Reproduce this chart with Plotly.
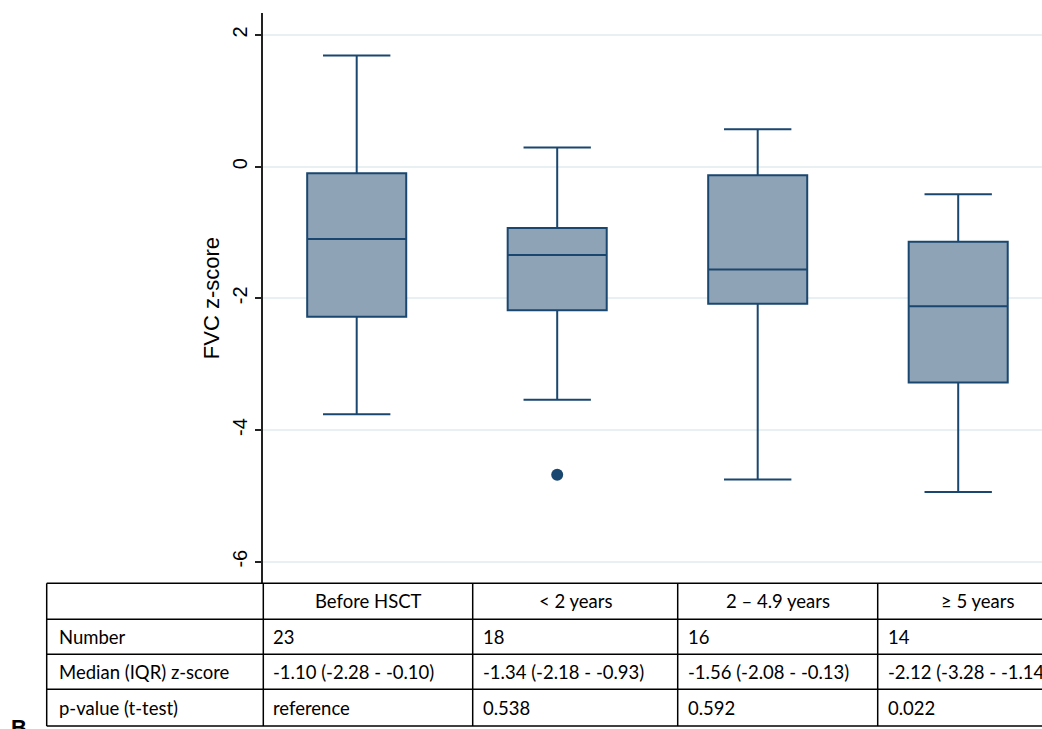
import plotly.graph_objects as go

# ---------------- data ----------------
categories = ["Before HSCT", "< 2 years", "2 \u2013 4.9 years", "\u2265 5 years"]
n_obs = [23, 18, 16, 14]
q1 = [-2.28, -2.18, -2.08, -3.28]
median = [-1.10, -1.34, -1.56, -2.12]
q3 = [-0.10, -0.93, -0.13, -1.14]
lower_whisker = [-3.76, -3.54, -4.75, -4.94]
upper_whisker = [1.69, 0.29, 0.57, -0.42]
outlier_group = [1]
outlier_value = [-4.68]
p_values = ["reference", "0.538", "0.592", "0.022"]
row_labels = ["Number", "Median (IQR) z-score", "p-value (t-test)"]
y_ticks = [-6, -4, -2, 0, 2]

# ---------------- layout helpers (screen pixel -> paper) ----------------
W, H = 1042, 729
def px(x):
    return x / W
def py(y):
    return 1 - y / H

NAVY = "#1a476f"
FILL = "#8ea3b6"
positions = list(range(len(categories)))

fig = go.Figure()
fig.add_trace(go.Box(
    x=positions, q1=q1, median=median, q3=q3,
    lowerfence=lower_whisker, upperfence=upper_whisker,
    width=0.494, whiskerwidth=0.68,
    fillcolor=FILL, line=dict(color=NAVY, width=2),
    boxpoints=False, showlegend=False, hoverinfo="skip",
))
fig.add_trace(go.Scatter(
    x=outlier_group, y=outlier_value, mode="markers",
    marker=dict(color=NAVY, size=12), showlegend=False, hoverinfo="skip",
))

top_px, bot_px, left_px, right_px = 12.7, 583.3, 263.3, W
y0_px, unit_px = 166.7, 65.83
x0_px, step_px = 356.7, 200.5

fig.update_layout(
    width=W, height=H,
    margin=dict(l=0, r=0, t=0, b=0),
    paper_bgcolor="white", plot_bgcolor="white",
    font=dict(family="Liberation Sans, Arial, sans-serif", color="black"),
    xaxis=dict(domain=[px(left_px), 1],
               range=[-(x0_px - left_px) / step_px, (right_px - x0_px) / step_px],
               showgrid=False, zeroline=False, showticklabels=False, showline=False, ticks=""),
    yaxis=dict(domain=[py(bot_px), py(top_px)],
               range=[(y0_px - bot_px) / unit_px, (y0_px - top_px) / unit_px],
               tickvals=y_ticks, ticktext=[str(v) for v in y_ticks],
               tickangle=-90, tickfont=dict(size=20, family="Liberation Sans"),
               ticks="outside", ticklen=7, tickwidth=1.5, tickcolor="#222",
               showline=True, linecolor="#222", linewidth=1.5,
               showgrid=True, gridcolor="#e8f0f2", gridwidth=1.5, zeroline=False,
               title=dict(text="FVC z-score", font=dict(size=22, family="Liberation Sans"), standoff=3)),
)

# ---------------- table below ----------------
col_x = [46.7, 263.3, 472.7, 677.7, 877.7, 1078]
row_y = [583.3, 619.3, 654.3, 689.3, 726.0]
LINE = dict(color="black", width=1.5)
for y in row_y:
    fig.add_shape(type="line", xref="paper", yref="paper",
                  x0=px(col_x[0]), x1=px(W + 20), y0=py(y), y1=py(y), line=LINE)
for x in col_x[:-1]:
    fig.add_shape(type="line", xref="paper", yref="paper",
                  x0=px(x), x1=px(x), y0=py(row_y[0]), y1=py(row_y[-1]), line=LINE)

TFONT = dict(family="Lato, Open Sans, sans-serif", size=18.5, color="black")
row_centers = [(row_y[i] + row_y[i + 1]) / 2 for i in range(4)]

def cell(text, x, y, anchor):
    fig.add_annotation(text=text, xref="paper", yref="paper", x=px(x), y=py(y),
                       xanchor=anchor, yanchor="middle", showarrow=False, font=TFONT)

for i, cat in enumerate(categories):
    cell(cat, (col_x[i + 1] + col_x[i + 2]) / 2, row_centers[0], "center")
for r, lab in enumerate(row_labels):
    cell(lab, col_x[0] + 10, row_centers[r + 1], "left")
for i in range(len(categories)):
    xl = col_x[i + 1] + 8
    cell(str(n_obs[i]), xl, row_centers[1], "left")
    cell(f"{median[i]:.2f} ({q1[i]:.2f} - {q3[i]:.2f})", xl, row_centers[2], "left")
    cell(p_values[i], xl, row_centers[3], "left")

fig.add_annotation(text="<b>B</b>", xref="paper", yref="paper", x=px(9), y=py(727),
                   xanchor="left", yanchor="middle", showarrow=False,
                   font=dict(family="Liberation Sans", size=22, color="black"))

fig.write_html("out.html", config={"displayModeBar": False},
               post_script="document.body.style.margin='0';document.body.style.overflow='hidden';")
